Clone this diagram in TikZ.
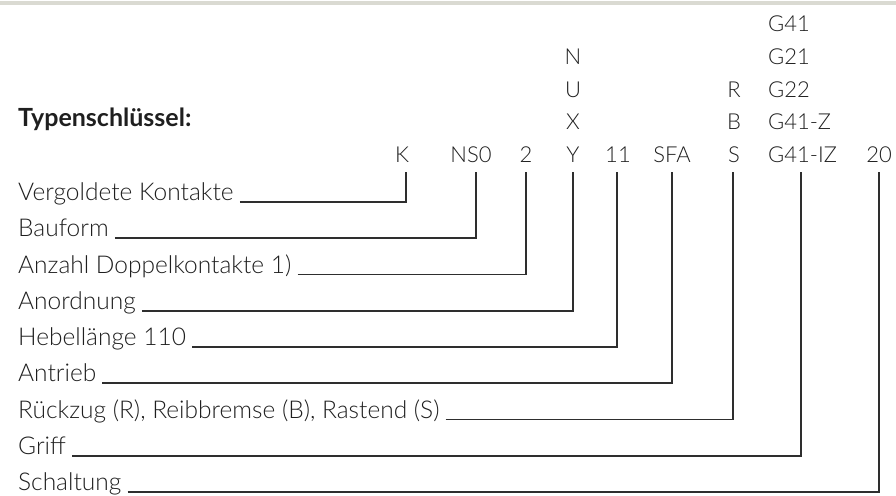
\documentclass[tikz,border=0pt]{standalone}
\usepackage{fontspec}
\setmainfont{Lato}[UprightFont={* Light}, BoldFont={* Bold}]
\begin{document}
\begin{tikzpicture}[x=1pt,y=-1pt,
  txt/.style={inner sep=0pt, text=ink},
  lbl/.style={txt, anchor=base west, font=\fontsize{24.5}{28}\selectfont},
  code/.style={txt, anchor=base, font=\fontsize{22}{24}\selectfont},
  gcode/.style={code, anchor=base west},
  lead/.style={draw=wire, line width=1.6pt}]
\definecolor{ink}{HTML}{1F1F1F}
\definecolor{wire}{HTML}{2E2E2E}
\definecolor{bar}{HTML}{DADAD2}
\useasboundingbox (0,0) rectangle (896,495);
\fill[bar] (0,1.5) rectangle (896,5);

% title
\node[txt, anchor=base west, font=\fontsize{25}{28}\selectfont\bfseries] (title) at (18,126) {Typenschlüssel:};

% code columns
\node[code] (cK)   at (402,162) {K};
\node[code] (cNS)  at (471,162) {NS0};
\node[code] (c2)   at (526,162) {2};
\node[code] (cY)   at (573,162) {Y};
\node[code] (cX)   at (573,129.5) {X};
\node[code] (cU)   at (573,97) {U};
\node[code] (cN)   at (573,64.5) {N};
\node[code] (c11)  at (618,162) {11};
\node[code] (cSFA) at (672,162) {SFA};
\node[code] (cS)   at (734,162) {S};
\node[code] (cB)   at (734,129.5) {B};
\node[code] (cR)   at (734,97) {R};
\node[gcode] (g5)  at (768,162) {G41-IZ};
\node[gcode] (g4)  at (768,129.5) {G41-Z};
\node[gcode] (g3)  at (768,97) {G22};
\node[gcode] (g2)  at (768,64.5) {G21};
\node[gcode] (g1)  at (768,32) {G41};
\node[code] (c20)  at (879,162) {20};

% attachment points below the codes
\coordinate (tK)   at (406,172);
\coordinate (tNS)  at (476,172);
\coordinate (t2)   at (526,172);
\coordinate (tY)   at (573,172);
\coordinate (t11)  at (617,172);
\coordinate (tSFA) at (672,172);
\coordinate (tS)   at (733,172);
\coordinate (tG)   at (801,172);
\coordinate (t20)  at (879,172);

% descriptions
\node[lbl] (l1) at (18,200.5) {Vergoldete Kontakte};
\node[lbl] (l2) at (18,236.75) {Bauform};
\node[lbl] (l3) at (18,273)   {Anzahl Doppelkontakte 1)};
\node[lbl] (l4) at (18,309.25) {Anordnung};
\node[lbl] (l5) at (18,345.5) {Hebellänge 110};
\node[lbl] (l6) at (18,381.75) {Antrieb};
\node[lbl] (l7) at (18,418)   {Rückzug (R), Reibbremse (B), Rastend (S)};
\node[lbl] (l8) at (18,454.25) {Griff};
\node[lbl] (l9) at (18,490.5) {Schaltung};

% leaders
\foreach \l/\t in {l1/tK, l2/tNS, l3/t2, l4/tY, l5/t11, l6/tSFA, l7/tS, l8/tG, l9/t20}
  \draw[lead] ([xshift=6pt,yshift=-1.5pt]\l.base east) -| (\t);
\end{tikzpicture}
\end{document}
